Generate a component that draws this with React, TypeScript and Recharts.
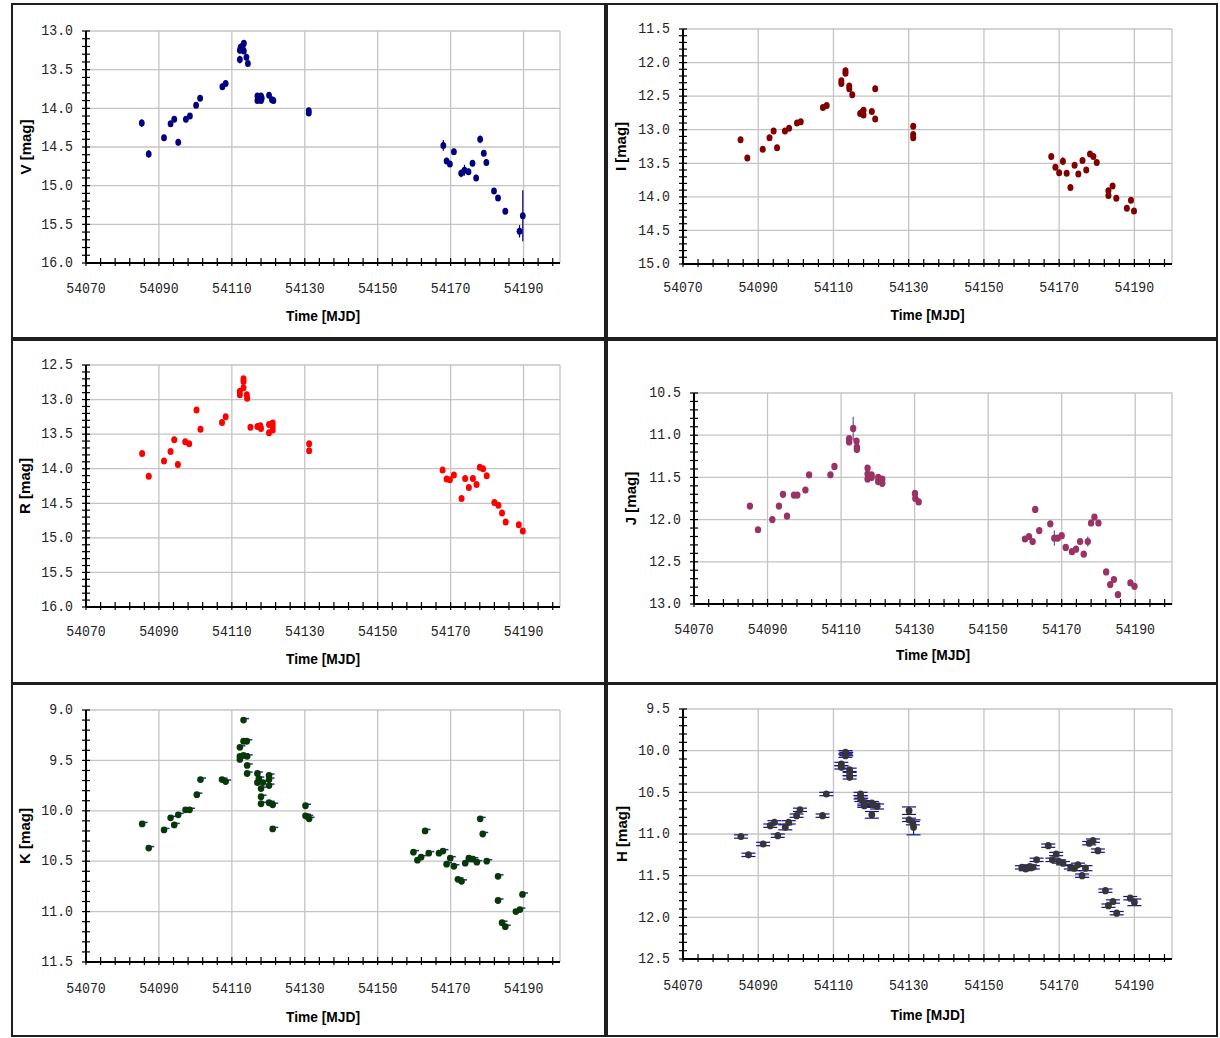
import React from 'react';
import { ScatterChart, Scatter, XAxis, YAxis, CartesianGrid, ErrorBar, Label } from 'recharts';

// [MJD, mag, error]
const V_DATA: number[][] = [
  [54085.3, 14.19, 0.05], [54087.2, 14.59, 0.05], [54091.4, 14.38, 0.04], [54093.2, 14.2, 0.03],
  [54094.2, 14.14, 0.03], [54095.3, 14.44, 0.04], [54097.4, 14.14, 0.04], [54098.5, 14.1, 0.03],
  [54100.2, 13.96, 0.03], [54101.3, 13.87, 0.03], [54107.4, 13.72, 0.04], [54108.3, 13.68, 0.03],
  [54112.2, 13.37, 0.05], [54112.2, 13.25, 0.04], [54112.4, 13.21, 0.04], [54113.0, 13.19, 0.03],
  [54113.3, 13.16, 0.03], [54113.3, 13.26, 0.03], [54114.0, 13.34, 0.03], [54114.4, 13.42, 0.03],
  [54117.0, 13.84, 0.03], [54117.0, 13.9, 0.03], [54117.4, 13.87, 0.03], [54118.0, 13.84, 0.03],
  [54118.0, 13.9, 0.03], [54118.2, 13.87, 0.03], [54120.2, 13.83, 0.03], [54121.0, 13.89, 0.03],
  [54121.4, 13.9, 0.03], [54131.1, 14.03, 0.03], [54131.1, 14.06, 0.03],
  [54168.0, 14.48, 0.07], [54168.9, 14.68, 0.04], [54169.8, 14.72, 0.04], [54170.9, 14.56, 0.04],
  [54172.9, 14.84, 0.05], [54173.8, 14.8, 0.07], [54174.9, 14.82, 0.04], [54176.0, 14.71, 0.04],
  [54177.0, 14.9, 0.04], [54178.1, 14.4, 0.05], [54179.1, 14.58, 0.04], [54179.8, 14.7, 0.04],
  [54181.9, 15.07, 0.03], [54183.0, 15.16, 0.03], [54185.0, 15.33, 0.04], [54188.9, 15.59, 0.08],
  [54189.8, 15.39, 0.33],
];

const I_DATA: number[][] = [
  [54085.3, 13.15, 0.02], [54087.1, 13.42, 0.02], [54091.2, 13.29, 0.02], [54093.0, 13.12, 0.02],
  [54094.1, 13.02, 0.02], [54095.0, 13.27, 0.02], [54097.1, 13.02, 0.02], [54098.2, 12.98, 0.02],
  [54100.3, 12.9, 0.02], [54101.3, 12.88, 0.02], [54107.2, 12.67, 0.02], [54108.2, 12.64, 0.02],
  [54112.1, 12.27, 0.02], [54112.1, 12.31, 0.02], [54113.2, 12.12, 0.02], [54113.2, 12.16, 0.02],
  [54114.2, 12.35, 0.02], [54114.2, 12.39, 0.02], [54115.0, 12.48, 0.02], [54117.1, 12.76, 0.02],
  [54117.6, 12.74, 0.02], [54118.0, 12.71, 0.02], [54118.0, 12.78, 0.02], [54120.2, 12.73, 0.02],
  [54121.1, 12.39, 0.05], [54121.1, 12.84, 0.02], [54131.2, 12.95, 0.02], [54131.2, 13.07, 0.02],
  [54131.2, 13.12, 0.02],
  [54167.9, 13.4, 0.02], [54169.0, 13.56, 0.02], [54170.0, 13.64, 0.02], [54171.0, 13.47, 0.06],
  [54172.0, 13.65, 0.02], [54173.0, 13.86, 0.02], [54174.1, 13.53, 0.02], [54175.1, 13.66, 0.02],
  [54176.2, 13.46, 0.02], [54177.2, 13.6, 0.02], [54178.2, 13.36, 0.02], [54179.1, 13.4, 0.02],
  [54180.0, 13.49, 0.02], [54183.1, 13.91, 0.02], [54183.1, 13.98, 0.02], [54184.2, 13.84, 0.02],
  [54185.2, 14.02, 0.02], [54188.0, 14.17, 0.02], [54189.1, 14.05, 0.03], [54189.9, 14.21, 0.02],
];

const R_DATA: number[][] = [
  [54085.4, 13.78, 0], [54087.2, 14.11, 0], [54091.4, 13.89, 0], [54093.2, 13.75, 0],
  [54094.2, 13.58, 0], [54095.2, 13.94, 0], [54097.2, 13.61, 0], [54098.3, 13.64, 0],
  [54100.3, 13.15, 0], [54101.4, 13.43, 0], [54107.3, 13.33, 0], [54108.3, 13.25, 0],
  [54112.2, 12.88, 0], [54112.2, 12.93, 0], [54113.2, 12.7, 0], [54113.2, 12.74, 0],
  [54113.2, 12.83, 0], [54114.1, 12.93, 0], [54114.2, 12.98, 0], [54115.1, 13.4, 0],
  [54117.0, 13.39, 0], [54117.8, 13.38, 0], [54118.0, 13.42, 0], [54120.2, 13.36, 0],
  [54120.2, 13.48, 0], [54121.2, 13.34, 0], [54121.2, 13.44, 0], [54121.2, 13.39, 0],
  [54131.2, 13.64, 0], [54131.2, 13.74, 0],
  [54167.8, 14.02, 0], [54168.9, 14.15, 0], [54169.8, 14.16, 0], [54170.9, 14.09, 0],
  [54173.0, 14.43, 0], [54174.0, 14.14, 0], [54175.0, 14.27, 0], [54176.1, 14.14, 0],
  [54177.1, 14.23, 0], [54178.0, 13.98, 0], [54178.9, 14.0, 0], [54179.9, 14.1, 0],
  [54182.0, 14.49, 0], [54183.1, 14.53, 0], [54184.1, 14.64, 0], [54185.1, 14.77, 0],
  [54188.7, 14.81, 0], [54189.8, 14.9, 0],
];

const J_DATA: number[][] = [
  [54085.2, 11.84, 0.02], [54087.4, 12.12, 0.02], [54091.3, 12.0, 0.02], [54093.1, 11.84, 0.02],
  [54094.2, 11.7, 0.03], [54095.3, 11.96, 0.02], [54097.2, 11.71, 0.02], [54098.1, 11.71, 0.02],
  [54100.3, 11.65, 0.02], [54101.3, 11.47, 0.02], [54107.1, 11.47, 0.02], [54108.2, 11.37, 0.02],
  [54112.2, 11.04, 0.02], [54112.2, 11.08, 0.02], [54113.3, 10.92, 0.14], [54114.2, 11.07, 0.02],
  [54114.3, 11.14, 0.02], [54114.3, 11.17, 0.02], [54117.2, 11.39, 0.02], [54117.2, 11.46, 0.02],
  [54117.2, 11.52, 0.02], [54118.3, 11.47, 0.02], [54118.3, 11.5, 0.02], [54120.1, 11.5, 0.02],
  [54120.1, 11.55, 0.02], [54121.2, 11.52, 0.02], [54121.2, 11.57, 0.03], [54130.1, 11.69, 0.02],
  [54130.2, 11.75, 0.02], [54131.1, 11.79, 0.02],
  [54160.0, 12.23, 0.02], [54161.1, 12.2, 0.02], [54162.1, 12.26, 0.02], [54162.8, 11.88, 0.02],
  [54163.9, 12.13, 0.02], [54166.9, 12.05, 0.02], [54168.0, 12.22, 0.09], [54168.9, 12.22, 0.02],
  [54170.0, 12.19, 0.02], [54171.1, 12.33, 0.04], [54172.8, 12.38, 0.04], [54173.9, 12.35, 0.02],
  [54175.0, 12.26, 0.02], [54176.0, 12.41, 0.02], [54177.1, 12.26, 0.06], [54178.0, 12.04, 0.03],
  [54178.9, 11.97, 0.02], [54180.0, 12.04, 0.03], [54182.1, 12.62, 0.02], [54183.2, 12.77, 0.02],
  [54184.2, 12.71, 0.03], [54185.3, 12.89, 0.04], [54188.7, 12.75, 0.02], [54189.8, 12.79, 0.02],
];

const K_DATA: number[][] = [
  [54085.4, 10.13, 0.02], [54087.2, 10.37, 0.02], [54091.4, 10.19, 0.02], [54093.2, 10.07, 0.02],
  [54094.2, 10.14, 0.02], [54095.3, 10.04, 0.02], [54097.3, 9.99, 0.02], [54098.4, 9.99, 0.02],
  [54100.4, 9.84, 0.02], [54101.4, 9.69, 0.02], [54107.3, 9.69, 0.02], [54108.3, 9.71, 0.02],
  [54112.2, 9.49, 0.02], [54112.2, 9.46, 0.02], [54112.2, 9.37, 0.02], [54113.2, 9.1, 0.02],
  [54113.2, 9.31, 0.02], [54113.2, 9.45, 0.02], [54114.1, 9.31, 0.02], [54114.2, 9.46, 0.02],
  [54114.2, 9.55, 0.02], [54114.2, 9.63, 0.02], [54117.0, 9.63, 0.02], [54117.0, 9.72, 0.02],
  [54117.4, 9.68, 0.02], [54118.0, 9.78, 0.02], [54118.0, 9.86, 0.02], [54118.0, 9.93, 0.02],
  [54118.5, 9.72, 0.02], [54120.2, 9.65, 0.02], [54120.2, 9.69, 0.02], [54120.2, 9.75, 0.02],
  [54120.2, 9.92, 0.02], [54121.2, 9.94, 0.02], [54121.2, 10.18, 0.02], [54130.2, 9.95, 0.02],
  [54130.2, 10.05, 0.02], [54130.8, 10.06, 0.02], [54131.2, 10.08, 0.02],
  [54159.8, 10.41, 0.02], [54160.9, 10.49, 0.02], [54161.9, 10.46, 0.02], [54163.0, 10.2, 0.02],
  [54164.0, 10.42, 0.02], [54166.8, 10.42, 0.02], [54167.9, 10.4, 0.02], [54168.9, 10.53, 0.02],
  [54169.9, 10.47, 0.02], [54170.9, 10.55, 0.02], [54172.0, 10.68, 0.02], [54173.0, 10.7, 0.02],
  [54174.0, 10.52, 0.02], [54175.0, 10.47, 0.02], [54176.1, 10.48, 0.02], [54177.2, 10.51, 0.02],
  [54178.1, 10.08, 0.03], [54178.8, 10.23, 0.02], [54179.9, 10.5, 0.02], [54183.0, 10.65, 0.02],
  [54183.0, 10.89, 0.02], [54184.1, 11.11, 0.02], [54185.0, 11.15, 0.02], [54187.9, 11.0, 0.02],
  [54189.0, 10.98, 0.02], [54189.7, 10.83, 0.03],
];

const H_DATA: number[][] = [
  [54085.4, 11.03, 0.02], [54087.4, 11.25, 0.02], [54091.3, 11.12, 0.02], [54093.2, 10.9, 0.02],
  [54094.3, 10.86, 0.02], [54095.2, 11.02, 0.02], [54097.2, 10.92, 0.03], [54098.1, 10.86, 0.02],
  [54100.2, 10.78, 0.02], [54101.1, 10.71, 0.02], [54107.1, 10.78, 0.02], [54108.1, 10.52, 0.02],
  [54112.1, 10.16, 0.02], [54112.1, 10.2, 0.02], [54113.2, 10.02, 0.02], [54113.2, 10.06, 0.02],
  [54113.4, 10.04, 0.02], [54114.3, 10.23, 0.02], [54114.3, 10.28, 0.02], [54114.3, 10.32, 0.02],
  [54117.2, 10.52, 0.02], [54117.2, 10.56, 0.02], [54117.4, 10.59, 0.02], [54118.2, 10.63, 0.03],
  [54118.2, 10.66, 0.02], [54120.2, 10.63, 0.02], [54120.2, 10.77, 0.04], [54120.6, 10.65, 0.02],
  [54121.6, 10.67, 0.03], [54130.1, 10.72, 0.045], [54130.1, 10.83, 0.02], [54131.1, 10.87, 0.02],
  [54131.3, 10.92, 0.09],
  [54160.1, 11.4, 0.02], [54161.1, 11.42, 0.02], [54162.2, 11.39, 0.02], [54163.0, 11.4, 0.02],
  [54164.0, 11.31, 0.02], [54167.1, 11.14, 0.02], [54168.2, 11.31, 0.02], [54169.2, 11.24, 0.02],
  [54170.0, 11.33, 0.02], [54171.0, 11.35, 0.02], [54173.1, 11.4, 0.02], [54174.0, 11.41, 0.03],
  [54175.0, 11.37, 0.02], [54176.1, 11.5, 0.02], [54177.0, 11.41, 0.03], [54178.0, 11.11, 0.02],
  [54179.0, 11.08, 0.02], [54180.3, 11.2, 0.02], [54182.3, 11.68, 0.02], [54183.1, 11.86, 0.02],
  [54184.3, 11.81, 0.02], [54185.3, 11.95, 0.02], [54188.9, 11.77, 0.02], [54190.0, 11.82, 0.04],
];

const X_DOMAIN: [number, number] = [54070, 54200];
const X_LABELS = [54070, 54090, 54110, 54130, 54150, 54170, 54190];
const X_GRID = [54070, 54090, 54110, 54130, 54150, 54170, 54190, 54200];

const V_TICKS = [13.0, 13.5, 14.0, 14.5, 15.0, 15.5, 16.0];
const I_TICKS = [11.5, 12.0, 12.5, 13.0, 13.5, 14.0, 14.5, 15.0];
const R_TICKS = [12.5, 13.0, 13.5, 14.0, 14.5, 15.0, 15.5, 16.0];
const J_TICKS = [10.5, 11.0, 11.5, 12.0, 12.5, 13.0];
const K_TICKS = [9.0, 9.5, 10.0, 10.5, 11.0, 11.5];
const H_TICKS = [9.5, 10.0, 10.5, 11.0, 11.5, 12.0, 12.5];

const MONO = '"Liberation Mono", "Courier New", monospace';
const SANS = '"Liberation Sans", Arial, sans-serif';
const GRID = '#c4c4c4';

const minorX: number[] = [];
for (let v = X_DOMAIN[0]; v < X_DOMAIN[1]; v += 4) minorX.push(v);

const minorY = (major: number[]) => {
  const out: number[] = [];
  const lo = Math.round(major[0] * 10);
  const hi = Math.round(major[major.length - 1] * 10);
  for (let i = lo; i <= hi; i++) out.push(i / 10);
  return out;
};

const XTick = ({ x, y, payload, dy }: any) => {
  const v = payload.value;
  const show = X_LABELS.includes(v);
  return (
    <g>
      <line x1={x} x2={x} y1={y - 5} y2={y + 3} stroke="#000" strokeWidth={1.2} />
      {show && (
        <text transform={`translate(${x},${y + dy}) scale(0.88,1)`} textAnchor="middle" dominantBaseline="central"
          fontFamily={MONO} fontSize={15} fill="#222">{v}</text>
      )}
    </g>
  );
};

const YTick = ({ x, y, payload, majors }: any) => {
  const v = payload.value;
  const show = majors.some((m: number) => Math.abs(m - v) < 1e-6);
  return (
    <g>
      <line x1={x - 4} x2={x + 4} y1={y} y2={y} stroke="#000" strokeWidth={1.2} />
      {show && (
        <text transform={`translate(${x - 13},${y}) scale(0.88,1)`} textAnchor="end" dominantBaseline="central"
          fontFamily={MONO} fontSize={15} fill="#222">{v.toFixed(1)}</text>
      )}
    </g>
  );
};

interface PanelProps {
  data: number[][];
  name: string;
  ticks: number[];
  color: string;
  errColor: string;
  errWidth: number;
  showErr: boolean;
  dash?: string;
  rx: number;
  ry: number;
  box: { left: number; top: number; width: number; height: number };
  yAxisW: number;
  mTop: number;
  xAxisH: number;
  tickDy: number;
  titleDy: number;
  yTitleX: number;
}

const Panel: React.FC<PanelProps> = (p) => {
  const rows = p.data.map(([t, m, e]) => ({ t, m, e }));
  const yDomain: [number, number] = [p.ticks[0], p.ticks[p.ticks.length - 1]];
  const marker = (sp: any) => (
    <g>
      {p.dash && <line x1={sp.cx} x2={sp.cx + 5.5} y1={sp.cy - 1.5} y2={sp.cy - 1.5} stroke={p.dash} strokeWidth={1.5} />}
      <ellipse cx={sp.cx} cy={sp.cy} rx={p.rx} ry={p.ry} fill={p.color} />
    </g>
  );
  return (
    <>
      <div style={{ position: 'absolute', left: p.box.left, top: p.box.top, width: p.box.width, height: p.box.height, border: '2px solid #1e1e1e', boxSizing: 'border-box' }} />
      <div style={{ position: 'absolute', left: p.box.left, top: p.box.top }}>
        <ScatterChart width={p.box.width} height={p.box.height} margin={{ top: p.mTop, right: 46, bottom: 0, left: 0 }}>
          <CartesianGrid stroke={GRID} strokeWidth={1.3} verticalValues={X_GRID} horizontalValues={p.ticks} />
          <XAxis type="number" dataKey="t" domain={X_DOMAIN} ticks={minorX} interval={0} allowDataOverflow
            height={p.xAxisH} tickSize={0} tickMargin={0} tickLine={false}
            axisLine={{ stroke: '#000', strokeWidth: 2 }}
            tick={(tp: any) => <XTick {...tp} dy={p.tickDy} />}>
            <Label content={({ viewBox }: any) => (
              <text transform={`translate(${viewBox.x + viewBox.width / 2},${viewBox.y + p.titleDy}) scale(0.92,1)`}
                textAnchor="middle" dominantBaseline="central" fontFamily={SANS} fontWeight="bold" fontSize={15} fill="#000">
                Time [MJD]
              </text>
            )} />
          </XAxis>
          <YAxis type="number" dataKey="m" domain={yDomain} reversed ticks={minorY(p.ticks)} interval={0} allowDataOverflow
            width={p.yAxisW} tickSize={0} tickMargin={0} tickLine={false}
            axisLine={{ stroke: '#000', strokeWidth: 2 }}
            tick={(tp: any) => <YTick {...tp} majors={p.ticks} />}>
            <Label content={({ viewBox }: any) => (
              <text transform={`translate(${viewBox.x + p.yTitleX},${viewBox.y + viewBox.height / 2}) rotate(-90)`}
                textAnchor="middle" dominantBaseline="central" fontFamily={SANS} fontWeight="bold" fontSize={15} fill="#000">
                {`${p.name} [mag]`}
              </text>
            )} />
          </YAxis>
          {p.showErr && (
            <Scatter data={rows} isAnimationActive={false} shape={() => <g />}>
              <ErrorBar dataKey="e" direction="y" width={p.errWidth} stroke={p.errColor} strokeWidth={1.2} />
            </Scatter>
          )}
          <Scatter data={rows} isAnimationActive={false} shape={marker} />
        </ScatterChart>
      </div>
    </>
  );
};

export default function App() {
  return (
    <div style={{ position: 'absolute', left: 0, top: 0, width: 1220, height: 1038, background: '#fff', overflow: 'hidden' }}>
      <Panel data={V_DATA} name="V" ticks={V_TICKS} color="#000080" errColor="#000080" errWidth={0} showErr rx={2.9} ry={3.5}
        box={{ left: 11, top: 3, width: 595, height: 336 }} yAxisW={75} mTop={28} xAxisH={76} tickDy={26} titleDy={53} yTitleX={14} />
      <Panel data={I_DATA} name="I" ticks={I_TICKS} color="#800000" errColor="#800000" errWidth={0} showErr rx={3} ry={3.5}
        box={{ left: 606, top: 3, width: 612, height: 336 }} yAxisW={77} mTop={26} xAxisH={75} tickDy={24} titleDy={51} yTitleX={14.5} />
      <Panel data={R_DATA} name="R" ticks={R_TICKS} color="#ff0000" errColor="#ff0000" errWidth={0} showErr={false} rx={3} ry={3.5}
        box={{ left: 11, top: 339, width: 595, height: 345 }} yAxisW={75} mTop={26} xAxisH={77} tickDy={25} titleDy={52} yTitleX={13.5} />
      <Panel data={J_DATA} name="J" ticks={J_TICKS} color="#993366" errColor="#5a5ac0" errWidth={0} showErr rx={3.2} ry={3.6}
        box={{ left: 606, top: 339, width: 612, height: 345 }} yAxisW={88} mTop={54} xAxisH={80} tickDy={26} titleDy={51} yTitleX={24} />
      <Panel data={K_DATA} name="K" ticks={K_TICKS} color="#073807" errColor="#2a2aa0" errWidth={0} showErr={false} dash="#2828b0" rx={3.3} ry={3.4}
        box={{ left: 11, top: 683, width: 595, height: 354 }} yAxisW={75} mTop={27} xAxisH={75} tickDy={27} titleDy={55} yTitleX={13} />
      <Panel data={H_DATA} name="H" ticks={H_TICKS} color="#363636" errColor="#10109a" errWidth={7} showErr rx={3.4} ry={3.6}
        box={{ left: 606, top: 683, width: 612, height: 354 }} yAxisW={77} mTop={26} xAxisH={78} tickDy={27} titleDy={56} yTitleX={15} />
    </div>
  );
}
